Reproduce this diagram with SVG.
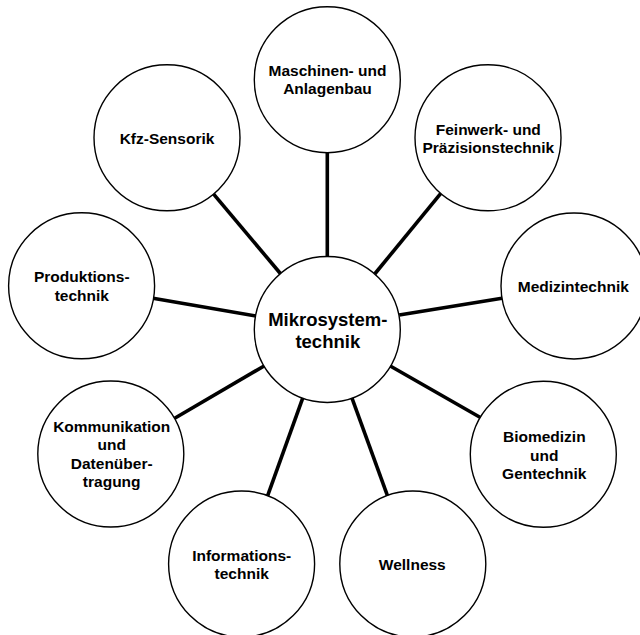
<svg xmlns="http://www.w3.org/2000/svg" width="640" height="635" viewBox="0 0 640 635">
  <style>
    .node { fill: #ffffff; stroke: #000000; stroke-width: 1.4; }
    .label { font-family: "Liberation Sans", Arial, sans-serif; font-weight: bold; font-size: 15.5px; fill: #000000; text-anchor: middle; }
    .hub { font-size: 18.5px; }
    .link { stroke: #000000; stroke-width: 3.6; stroke-linecap: butt; }
  </style>
  <rect width="640" height="635" fill="#ffffff"/>

  <!-- spokes from the hub to each field -->
  <g id="connectors">
    <line class="link" x1="327.3" y1="152.7" x2="327.3" y2="256.7"/>
    <line class="link" x1="213" y1="193.3" x2="280.8" y2="274"/>
    <line class="link" x1="440.8" y1="193.3" x2="374.7" y2="274"/>
    <line class="link" x1="153" y1="298.3" x2="256" y2="316"/>
    <line class="link" x1="502" y1="298.3" x2="399.2" y2="315"/>
    <line class="link" x1="174.7" y1="418.3" x2="264.5" y2="365.7"/>
    <line class="link" x1="389.8" y1="365.7" x2="480.8" y2="417.7"/>
    <line class="link" x1="302.9" y1="397.7" x2="267.3" y2="496.7"/>
    <line class="link" x1="351.8" y1="397.7" x2="387.8" y2="496.7"/>
  </g>

  <g id="hub">
    <circle class="node" cx="327.3" cy="329.5" r="73"/>
    <text class="label hub" x="327.8" y="326">Mikrosystem-</text>
    <text class="label hub" x="327.8" y="347.5">technik</text>
  </g>

  <g id="maschinenbau">
    <circle class="node" cx="327.3" cy="79.7" r="73"/>
    <text class="label" x="327.5" y="76">Maschinen- und</text>
    <text class="label" x="327.5" y="94.3">Anlagenbau</text>
  </g>

  <g id="kfz-sensorik">
    <circle class="node" cx="167" cy="137.8" r="73"/>
    <text class="label" x="167" y="144">Kfz-Sensorik</text>
  </g>

  <g id="feinwerktechnik">
    <circle class="node" cx="488" cy="137.8" r="73"/>
    <text class="label" x="488.3" y="135">Feinwerk- und</text>
    <text class="label" x="488.3" y="153">Präzisionstechnik</text>
  </g>

  <g id="produktionstechnik">
    <circle class="node" cx="81.6" cy="285.8" r="73"/>
    <text class="label" x="81.8" y="282.3">Produktions-</text>
    <text class="label" x="81.8" y="301">technik</text>
  </g>

  <g id="medizintechnik">
    <circle class="node" cx="574" cy="286" r="73"/>
    <text class="label" x="573.3" y="291.7">Medizintechnik</text>
  </g>

  <g id="kommunikation">
    <circle class="node" cx="110.8" cy="454" r="73"/>
    <text class="label" x="111.7" y="431.7">Kommunikation</text>
    <text class="label" x="111.7" y="450.3">und</text>
    <text class="label" x="111.7" y="469">Datenüber-</text>
    <text class="label" x="111.7" y="487.3">tragung</text>
  </g>

  <g id="biomedizin">
    <circle class="node" cx="543.3" cy="454.3" r="73"/>
    <text class="label" x="544.3" y="442.3">Biomedizin</text>
    <text class="label" x="544.3" y="461">und</text>
    <text class="label" x="544.3" y="479">Gentechnik</text>
  </g>

  <g id="informationstechnik">
    <circle class="node" cx="241.6" cy="564" r="73"/>
    <text class="label" x="241.7" y="560.7">Informations-</text>
    <text class="label" x="241.7" y="578.7">technik</text>
  </g>

  <g id="wellness">
    <circle class="node" cx="412.8" cy="564" r="73"/>
    <text class="label" x="412.3" y="570">Wellness</text>
  </g>
</svg>
